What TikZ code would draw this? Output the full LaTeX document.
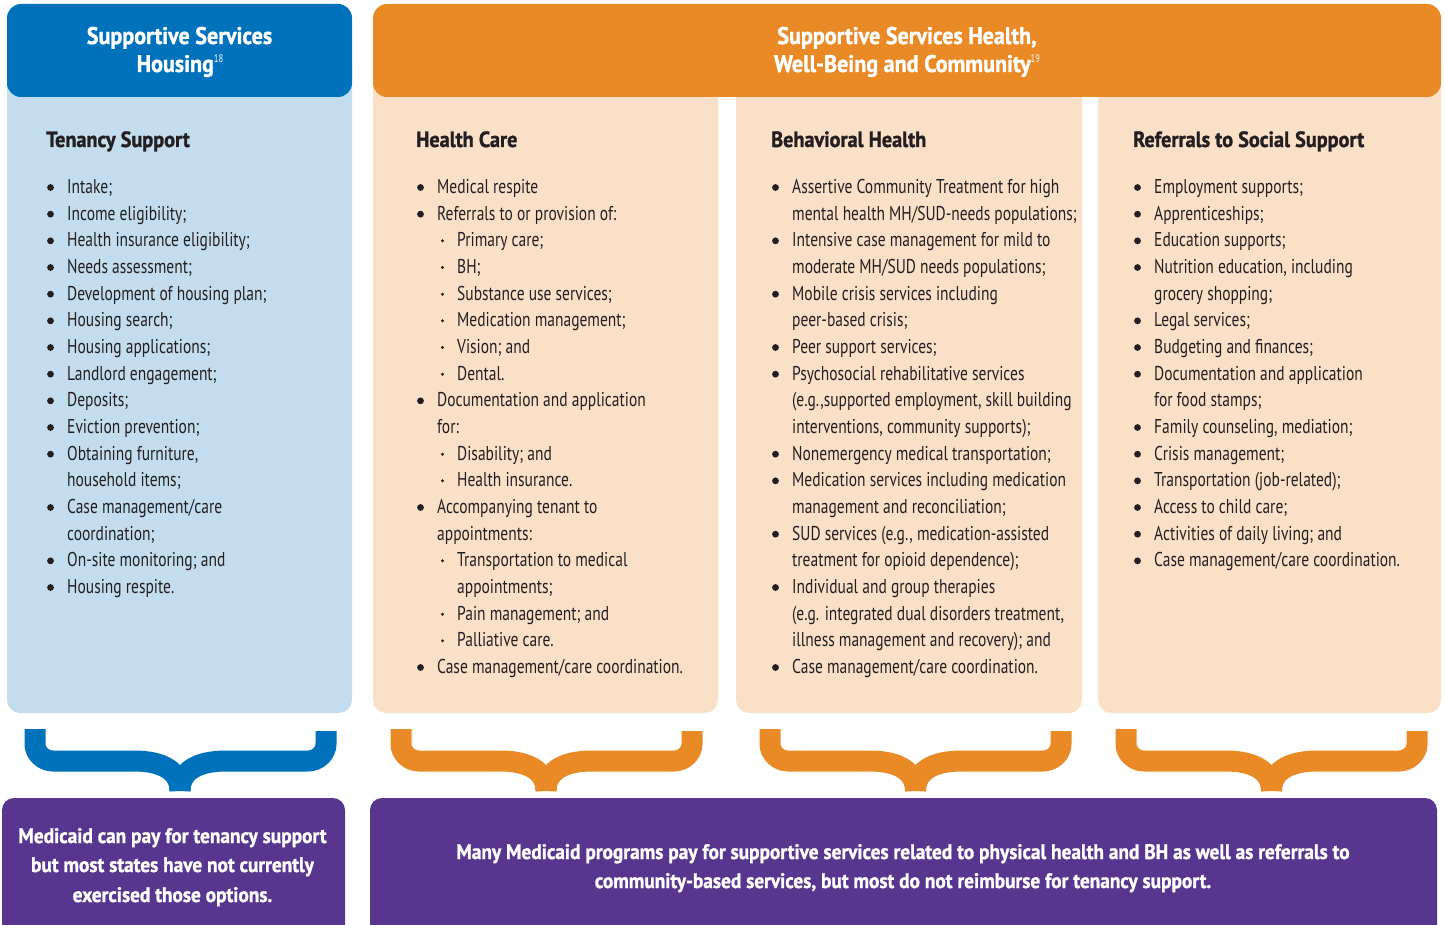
\documentclass[tikz,border=0pt]{standalone}
\usepackage{fontspec}
\setmainfont{PT Sans}[FakeStretch=0.775, BoldFeatures={FakeStretch=0.92, FakeBold=1.2}]
\definecolor{hblue}{HTML}{0072BC}
\definecolor{lblue}{HTML}{C3DDEF}
\definecolor{horange}{HTML}{E98A26}
\definecolor{peach}{HTML}{FBE0C8}
\definecolor{purp}{HTML}{58358F}
\definecolor{textdark}{HTML}{231F20}
\newcounter{nn}
\newcounter{row}
\def\colx{0}
\newcommand\startcol[1]{\def\colx{#1}\setcounter{row}{0}}
\newcommand\Bi[1]{%
  \stepcounter{nn}%
  \fill[textdark] ({\colx-16.5},{187.5+26.667*\therow}) circle (3.4pt);
  \node[txt] (n\thenn) at ({\colx},{193.5+26.667*\therow}) {#1};
  \stepcounter{row}}
\newcommand\Ci[1]{%
  \stepcounter{nn}%
  \node[txt] (n\thenn) at ({\colx},{193.5+26.667*\therow}) {#1};
  \stepcounter{row}}
\newcommand\Si[1]{%
  \stepcounter{nn}%
  \fill[textdark] ({\colx+5.5},{187.5+26.667*\therow}) circle (1.6pt);
  \node[txt] (n\thenn) at ({\colx+20},{193.5+26.667*\therow}) {#1};
  \stepcounter{row}}
\newcommand\Sc[1]{%
  \stepcounter{nn}%
  \node[txt] (n\thenn) at ({\colx+20},{193.5+26.667*\therow}) {#1};
  \stepcounter{row}}
% brace: left arm x, right arm x, tip x, colour
\newcommand\Brace[4]{%
  \draw[line width=21pt, #4]
    (#1,729) -- (#1,744) .. controls (#1,753.4) and ({#1+8.6},761) .. ({#1+18},761)
    -- ({#3-46},761) .. controls ({#3-16},761) and (#3,772) .. (#3,791);
  \draw[line width=21pt, #4]
    (#3,791) .. controls (#3,772) and ({#3+16},761) .. ({#3+46},761)
    -- ({#2-18},761) .. controls ({#2-8.6},761) and (#2,753.4) .. (#2,744) -- (#2,731);}
\begin{document}
\begin{tikzpicture}[x=1pt,y=-1pt,
  txt/.style={anchor=base west, inner sep=0pt, text=textdark, font=\fontsize{20}{24}\selectfont},
  head/.style={anchor=base west, inner sep=0pt, text=textdark, font=\fontsize{22}{26}\selectfont\bfseries},
  hdr/.style={anchor=base, inner sep=0pt, text=white, font=\fontsize{24}{28}\selectfont\bfseries},
  bot/.style={anchor=base, inner sep=0pt, text=white, font=\fontsize{21}{25}\selectfont\bfseries}]
\useasboundingbox (0,0) rectangle (1445,925);
\path[clip] (0,0) rectangle (1445,925);
% column bodies
\fill[lblue, rounded corners=13pt] (7,50) rectangle (352,713);
\fill[peach, rounded corners=13pt] (373,50) rectangle (718,713);
\fill[peach, rounded corners=13pt] (736,50) rectangle (1082,713);
\fill[peach, rounded corners=13pt] (1098,50) rectangle (1441,713);
% headers
\fill[hblue, rounded corners=14pt] (7,4) rectangle (352,97);
\fill[horange, rounded corners=14pt] (373,4) rectangle (1441,97);
\node[hdr] (h1) at (179.5,44) {Supportive Services};
\node[hdr] (h2) at (180,72) {Housing{\mdseries\fontsize{11}{12}\selectfont\raisebox{9pt}{18}}};
\node[hdr] (h3) at (907,44) {Supportive Services Health,};
\node[hdr] (h4) at (907,72) {Well-Being and Community{\mdseries\fontsize{11}{12}\selectfont\raisebox{9pt}{19}}};
% column headings
\node[head] (c1) at (46,147) {Tenancy Support};
\node[head] (c2) at (416,147) {Health Care};
\node[head] (c3) at (771,147) {Behavioral Health};
\node[head] (c4) at (1133,147) {Referrals to Social Support};
% column 1
\startcol{67}
\Bi{Intake;}
\Bi{Income eligibility;}
\Bi{Health insurance eligibility;}
\Bi{Needs assessment;}
\Bi{Development of housing plan;}
\Bi{Housing search;}
\Bi{Housing applications;}
\Bi{Landlord engagement;}
\Bi{Deposits;}
\Bi{Eviction prevention;}
\Bi{Obtaining furniture,}
\Ci{household items;}
\Bi{Case management/care}
\Ci{coordination;}
\Bi{On-site monitoring; and}
\Bi{Housing respite.}
% column 2
\startcol{437}
\Bi{Medical respite}
\Bi{Referrals to or provision of:}
\Si{Primary care;}
\Si{BH;}
\Si{Substance use services;}
\Si{Medication management;}
\Si{Vision; and}
\Si{Dental.}
\Bi{Documentation and application}
\Ci{for:}
\Si{Disability; and}
\Si{Health insurance.}
\Bi{Accompanying tenant to}
\Ci{appointments:}
\Si{Transportation to medical}
\Sc{appointments;}
\Si{Pain management; and}
\Si{Palliative care.}
\Bi{Case management/care coordination.}
% column 3
\startcol{792}
\Bi{Assertive Community Treatment for high}
\Ci{mental health MH/SUD-needs populations;}
\Bi{Intensive case management for mild to}
\Ci{moderate MH/SUD needs populations;}
\Bi{Mobile crisis services including}
\Ci{peer-based crisis;}
\Bi{Peer support services;}
\Bi{Psychosocial rehabilitative services}
\Ci{(e.g.,supported employment, skill building}
\Ci{interventions, community supports);}
\Bi{Nonemergency medical transportation;}
\Bi{Medication services including medication}
\Ci{management and reconciliation;}
\Bi{SUD services (e.g., medication-assisted}
\Ci{treatment for opioid dependence);}
\Bi{Individual and group therapies}
\Ci{(e.g. integrated dual disorders treatment,}
\Ci{illness management and recovery); and}
\Bi{Case management/care coordination.}
% column 4
\startcol{1154}
\Bi{Employment supports;}
\Bi{Apprenticeships;}
\Bi{Education supports;}
\Bi{Nutrition education, including}
\Ci{grocery shopping;}
\Bi{Legal services;}
\Bi{Budgeting and finances;}
\Bi{Documentation and application}
\Ci{for food stamps;}
\Bi{Family counseling, mediation;}
\Bi{Crisis management;}
\Bi{Transportation (job-related);}
\Bi{Access to child care;}
\Bi{Activities of daily living; and}
\Bi{Case management/care coordination.}
% braces
\Brace{35}{326}{180}{hblue}
\Brace{401}{692}{546}{horange}
\Brace{770}{1061}{915.5}{horange}
\Brace{1126}{1417}{1271.5}{horange}
% bottom boxes
\fill[purp, rounded corners=12pt] (2,798) rectangle (345,950);
\fill[purp, rounded corners=12pt] (370,798) rectangle (1437,950);
\node[bot] (b1) at (172.5,843) {Medicaid can pay for tenancy support};
\node[bot] (b2) at (172.5,872) {but most states have not currently};
\node[bot] (b3) at (172.5,902) {exercised those options.};
\node[bot] (b4) at (903,859) {Many Medicaid programs pay for supportive services related to physical health and BH as well as referrals to};
\node[bot] (b5) at (903,888) {community-based services, but most do not reimburse for tenancy support.};
\end{tikzpicture}
\end{document}
